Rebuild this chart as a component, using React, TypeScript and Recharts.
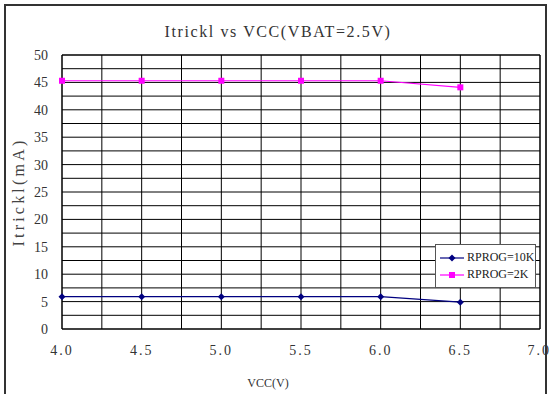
import React from 'react';
import { LineChart, Line, XAxis, YAxis, ReferenceLine } from 'recharts';

// VCC sweep points (V)
const vcc = [4.0, 4.5, 5.0, 5.5, 6.0, 6.5];
// Trickle current (mA) per programming resistor
const rprog10k = [5.9, 5.9, 5.9, 5.9, 5.9, 4.9];
const rprog2k = [45.3, 45.3, 45.3, 45.3, 45.3, 44.1];

const xTicks = [4.0, 4.5, 5.0, 5.5, 6.0, 6.5, 7.0];
const yTicks = [0, 5, 10, 15, 20, 25, 30, 35, 40, 45, 50];
const xGrid = [4.25, 4.5, 4.75, 5.0, 5.25, 5.5, 5.75, 6.0, 6.25, 6.5, 6.75];
const yGrid = [2.5, 5, 7.5, 10, 12.5, 15, 17.5, 20, 22.5, 25, 27.5, 30, 32.5, 35, 37.5, 40, 42.5, 45, 47.5];

const data = vcc.map((v, i) => ({ vcc: v, r10k: rprog10k[i], r2k: rprog2k[i] }));

const SERIF = '"Liberation Serif", serif';

const Diamond = (props: any) => {
  const { cx, cy } = props;
  if (cx == null || cy == null) return null;
  return <path d={`M${cx},${cy - 3.5} L${cx + 3.5},${cy} L${cx},${cy + 3.5} L${cx - 3.5},${cy} Z`} fill="#000080" stroke="none" />;
};

const Square = (props: any) => {
  const { cx, cy } = props;
  if (cx == null || cy == null) return null;
  return <rect x={cx - 3} y={cy - 3} width={6} height={6} fill="#FF00FF" stroke="none" />;
};

const legendItems = [
  { name: 'RPROG=10K', color: '#000080', kind: 'd' },
  { name: 'RPROG=2K', color: '#FF00FF', kind: 's' },
];

const LegendBox = () => (
  <div
    style={{
      position: 'absolute',
      left: 435,
      top: 244,
      border: '1px solid #555',
      background: '#fff',
      width: 101,
      height: 44,
      padding: '4px 0 0 4px',
      boxSizing: 'border-box',
      fontFamily: SERIF,
      fontSize: 12,
      color: '#222',
    }}
  >
    {legendItems.map((e) => (
      <div key={e.name} style={{ display: 'flex', alignItems: 'center', height: 17 }}>
        <svg width={24} height={10} style={{ marginRight: 3 }}>
          <line x1={0} y1={5} x2={24} y2={5} stroke={e.color} strokeWidth={1.2} />
          {e.kind === 'd' ? (
            <path d="M12,1.5 L15.5,5 L12,8.5 L8.5,5 Z" fill={e.color} />
          ) : (
            <rect x={9} y={2} width={6} height={6} fill={e.color} />
          )}
        </svg>
        <span>{e.name}</span>
      </div>
    ))}
  </div>
);

export default function App() {
  return (
    <div style={{ position: 'absolute', left: 0, top: 0, width: 551, height: 394, background: '#fff', overflow: 'hidden' }}>
      <div
        style={{
          position: 'absolute',
          left: 4,
          top: 4,
          width: 543,
          height: 400,
          border: '2px solid #333',
          boxSizing: 'border-box',
        }}
      />
      <div
        style={{
          position: 'absolute',
          left: 0,
          width: 556,
          top: 23,
          textAlign: 'center',
          fontFamily: SERIF,
          fontSize: 16,
          letterSpacing: 1.6,
          color: '#333',
        }}
      >
        Itrickl vs VCC(VBAT=2.5V)
      </div>
      <div
        style={{
          position: 'absolute',
          left: 19,
          top: 192,
          transform: 'translate(-50%, -50%) rotate(-90deg)',
          fontFamily: SERIF,
          fontSize: 16,
          letterSpacing: 3.2,
          color: '#444',
          whiteSpace: 'nowrap',
        }}
      >
        Itrickl(mA)
      </div>
      <div
        style={{
          position: 'absolute',
          left: 268,
          top: 383,
          transform: 'translate(-50%, -50%)',
          fontFamily: SERIF,
          fontSize: 12,
          color: '#333',
          whiteSpace: 'nowrap',
        }}
      >
        VCC(V)
      </div>
      <div style={{ position: 'absolute', left: 0, top: 0 }}>
        <LineChart width={551} height={394} data={data} margin={{ top: 55, right: 11, left: 0, bottom: 0 }}>
          <XAxis
            dataKey="vcc"
            type="number"
            domain={[4, 7]}
            ticks={xTicks}
            tickFormatter={(v: number) => v.toFixed(1)}
            axisLine={false}
            tickLine={false}
            height={65}
            tick={{ fontFamily: SERIF, fontSize: 14, fill: '#333', letterSpacing: 2, dy: 8 }}
          />
          <YAxis
            type="number"
            domain={[0, 50]}
            ticks={yTicks}
            axisLine={false}
            tickLine={false}
            width={62}
            tick={{ fontFamily: SERIF, fontSize: 14, fill: '#333', dx: -6 }}
          />
          {xGrid.map((v) => (
            <ReferenceLine key={`x${v}`} x={v} stroke="#000" strokeWidth={1} />
          ))}
          {yGrid.map((v) => (
            <ReferenceLine key={`y${v}`} y={v} stroke="#000" strokeWidth={1} />
          ))}
          <ReferenceLine x={4} stroke="#000" strokeWidth={1.5} />
          <ReferenceLine x={7} stroke="#000" strokeWidth={1.5} />
          <ReferenceLine y={0} stroke="#000" strokeWidth={1.5} />
          <ReferenceLine y={50} stroke="#000" strokeWidth={1.5} />
          <Line
            dataKey="r10k"
            name="RPROG=10K"
            stroke="#000080"
            strokeWidth={1.2}
            dot={<Diamond />}
            isAnimationActive={false}
          />
          <Line
            dataKey="r2k"
            name="RPROG=2K"
            stroke="#FF00FF"
            strokeWidth={1.2}
            dot={<Square />}
            isAnimationActive={false}
          />
        </LineChart>
      </div>
      <LegendBox />
    </div>
  );
}
